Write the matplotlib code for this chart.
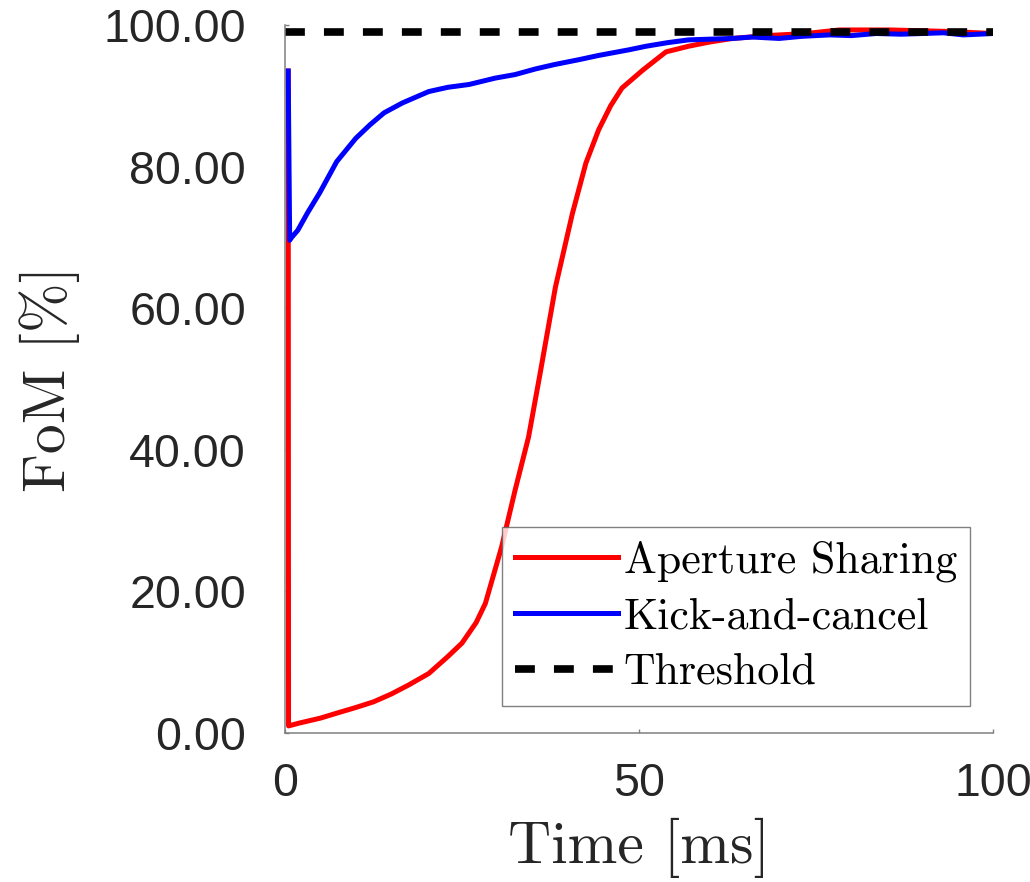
import matplotlib.pyplot as plt
import numpy as np

# Aperture Sharing: FoM vs time
t_as = [0.45, 0.5, 2, 5, 7.3, 10, 12.5, 15, 17.5, 20.3, 23, 25, 27, 28.3, 30.6, 32.5, 34.4, 36.0,
        38.2, 40.6, 42.5, 44.3, 46, 47.6, 50.5, 53.8, 57, 60, 63.2, 68, 73.6, 78.3, 85.4, 93.4, 100]
fom_as = [93.5, 1.0, 1.4, 2.1, 2.8, 3.6, 4.4, 5.5, 6.8, 8.4, 10.8, 12.7, 15.6, 18.3, 26.3, 34.3, 41.8, 50.6,
          63.0, 73.4, 80.5, 85.2, 88.6, 91.1, 93.6, 96.2, 97.0, 97.6, 98.1, 98.5, 98.8, 99.3, 99.3, 99.1, 98.8]

# Kick-and-cancel: FoM vs time
t_kc = [0.45, 0.66, 0.94, 1.8, 3.2, 4.9, 7.3, 10, 12, 14, 16.6, 20.3, 23, 26, 29.7, 32.5, 35.4,
        38, 41.5, 44.3, 48.6, 51, 54, 57, 60, 63.2, 66, 69.8, 73, 76.9, 80, 83.5, 87, 90.1,
        93, 95.8, 98, 100]
fom_kc = [93.5, 69.6, 70.0, 71.0, 73.5, 76.3, 80.7, 84.0, 85.9, 87.6, 89.0, 90.6, 91.2, 91.6, 92.5,
          93.0, 93.8, 94.4, 95.1, 95.7, 96.5, 97.0, 97.5, 97.9, 98.0, 98.1, 98.3, 98.1, 98.4,
          98.6, 98.5, 98.8, 98.7, 98.8, 98.9, 98.6, 98.7, 98.8]

t_thr = [0, 100]
fom_thr = [99, 99]

ytick_vals = [0, 20, 40, 60, 80, 100]
xtick_vals = [0, 50, 100]

fig = plt.figure(figsize=(10.30, 8.82), dpi=100)
ax = fig.add_axes([285 / 1030, 149 / 882, 708 / 1030, 708 / 882])

ax.plot(t_as, fom_as, color='#ff0000', lw=3.6, label='Aperture Sharing')
ax.plot(t_kc, fom_kc, color='#0000ff', lw=3.6, label='Kick-and-cancel')
ax.plot(t_thr, fom_thr, color='black', lw=5.5, dashes=(2.6, 2.5), label='Threshold')

ax.set_xlim(0, 100)
ax.set_ylim(0, 100)
ax.set_xticks(xtick_vals)
ax.set_yticks(ytick_vals)
ax.set_yticklabels(['%.2f' % v for v in ytick_vals])

for side in ('top', 'right'):
    ax.spines[side].set_visible(False)
for side in ('left', 'bottom'):
    ax.spines[side].set_color('#808080')
    ax.spines[side].set_linewidth(1.1)

ax.tick_params(axis='both', direction='in', length=3, width=1.0, color='#808080',
               labelcolor='#262626', labelsize=33.5)
ax.tick_params(axis='y', pad=28)
ax.tick_params(axis='x', pad=21)
for lbl in ax.get_xticklabels() + ax.get_yticklabels():
    lbl.set_fontfamily('Liberation Sans')

ax.set_xlabel('Time [ms]', family='cmr10', fontsize=43, color='#262626')
ax.set_ylabel('FoM [%]', family='cmr10', fontsize=43, color='#262626')
ax.xaxis.set_label_coords(0.5, -0.12)
ax.yaxis.set_label_coords(-0.29, 0.5)

leg = ax.legend(loc='lower left', bbox_to_anchor=(0.3065, 0.038), borderaxespad=0,
                prop={'family': 'cmr10', 'size': 31.6}, frameon=True, fancybox=False,
                handlelength=2.35, handletextpad=0.12, labelspacing=0.35, borderpad=0.3)
leg.get_frame().set_edgecolor('#606060')
leg.get_frame().set_linewidth(1.0)

fig.savefig('out.png', dpi=100)
